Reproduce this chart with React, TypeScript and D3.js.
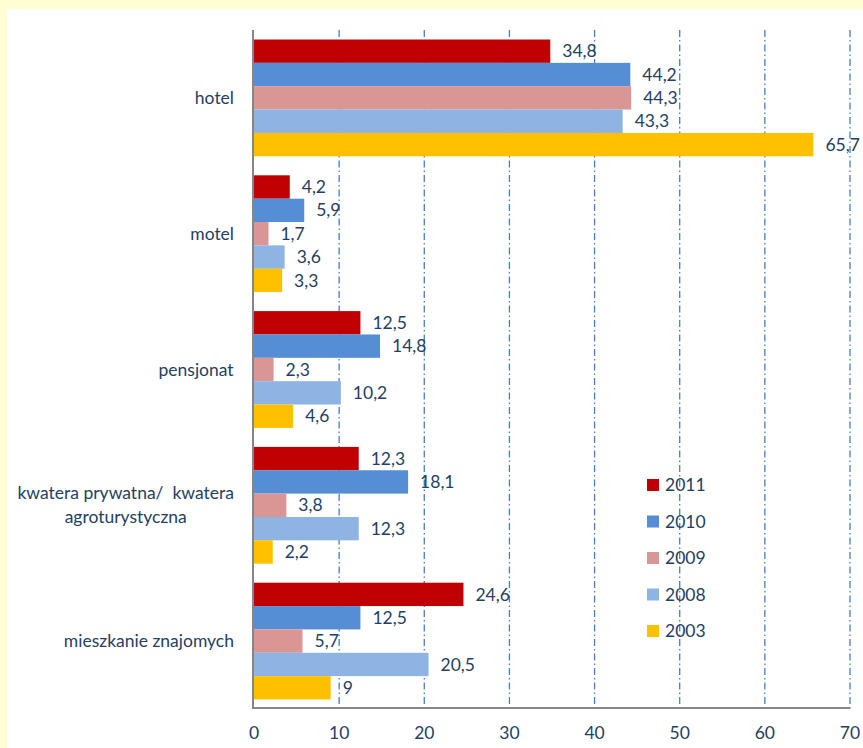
import React, { useEffect, useRef } from 'react'
import * as d3 from 'd3'

const categories = [
  ['hotel'],
  ['motel'],
  ['pensjonat'],
  ['kwatera prywatna/  kwatera', 'agroturystyczna'],
  ['mieszkanie znajomych']
]
const years = ['2011', '2010', '2009', '2008', '2003']
const colors = ['#C00000', '#558ED5', '#D99694', '#8EB4E3', '#FFC000']
const values2011 = [34.8, 4.2, 12.5, 12.3, 24.6]
const values2010 = [44.2, 5.9, 14.8, 18.1, 12.5]
const values2009 = [44.3, 1.7, 2.3, 3.8, 5.7]
const values2008 = [43.3, 3.6, 10.2, 12.3, 20.5]
const values2003 = [65.7, 3.3, 4.6, 2.2, 9]
const series = [values2011, values2010, values2009, values2008, values2003]
const xTicks = [0, 10, 20, 30, 40, 50, 60, 70]

const W = 863
const H = 748
const textColor = '#243F60'
const font = 'Lato, sans-serif'
const fs = 17.5

const App: React.FC = () => {
  const svgRef = useRef<SVGSVGElement | null>(null)

  useEffect(() => {
    if (!svgRef.current) return
    const svg = d3.select(svgRef.current)
    svg.selectAll('*').remove()

    // page background + white chart panel
    svg.append('rect').attr('width', W).attr('height', H).attr('fill', '#FFFDD2')
    svg.append('rect').attr('x', 7).attr('y', 9).attr('width', W).attr('height', H).attr('fill', '#fff')

    const x = d3.scaleLinear().domain([0, 70]).range([254, 850])
    const y = d3
      .scaleBand<number>()
      .domain(d3.range(categories.length))
      .range([30, 709])
      .paddingInner(0.14)
      .paddingOuter(0.07)
    const inner = d3
      .scaleBand<number>()
      .domain(d3.range(years.length))
      .range([0, y.bandwidth()])

    // gridlines
    svg
      .append('g')
      .selectAll('line')
      .data(xTicks.slice(1))
      .join('line')
      .attr('x1', (d) => x(d))
      .attr('x2', (d) => x(d))
      .attr('y1', 30)
      .attr('y2', 709)
      .attr('stroke', '#4A7EBB')
      .attr('stroke-width', 1.3)
      .attr('stroke-dasharray', '7,3,1.5,3')

    // bars
    const groups = svg
      .append('g')
      .selectAll('g')
      .data(categories)
      .join('g')
      .attr('transform', (_, i) => `translate(0,${y(i)})`)

    const fmt = (v: number) => String(v).replace('.', ',')

    groups.each(function (_, ci) {
      const g = d3.select(this)
      years.forEach((_, si) => {
        const v = series[si][ci]
        g.append('rect')
          .attr('x', x(0))
          .attr('y', inner(si)!)
          .attr('width', x(v) - x(0))
          .attr('height', inner.bandwidth())
          .attr('fill', colors[si])
        g.append('text')
          .attr('x', x(v) + 12)
          .attr('y', inner(si)! + inner.bandwidth() / 2)
          .attr('dy', '0.35em')
          .attr('fill', textColor)
          .attr('font-family', font)
          .attr('font-size', fs)
          .text(fmt(v))
      })
    })

    // axes lines
    svg
      .append('line')
      .attr('x1', x(0) - 1)
      .attr('x2', x(0) - 1)
      .attr('y1', 30)
      .attr('y2', 709)
      .attr('stroke', '#868686')
      .attr('stroke-width', 2)
    svg
      .append('line')
      .attr('x1', x(0) - 2)
      .attr('x2', x(70))
      .attr('y1', 708)
      .attr('y2', 708)
      .attr('stroke', '#868686')
      .attr('stroke-width', 2)

    // x tick labels
    svg
      .append('g')
      .selectAll('text')
      .data(xTicks)
      .join('text')
      .attr('x', (d) => x(d))
      .attr('y', 733)
      .attr('dy', '0.35em')
      .attr('text-anchor', 'middle')
      .attr('fill', textColor)
      .attr('font-family', font)
      .attr('font-size', fs)
      .text((d) => d)

    // category labels (multi-line centred on the longest line, right edge at 234)
    categories.forEach((lines, i) => {
      const cy = y(i)! + y.bandwidth() / 2
      const t = svg
        .append('text')
        .attr('fill', textColor)
        .attr('font-family', font)
        .attr('font-size', fs)
        .attr('text-anchor', 'middle')
      lines.forEach((line, li) => {
        t.append('tspan')
          .attr('x', 0)
          .attr('y', cy + (li - (lines.length - 1) / 2) * 24)
          .attr('dy', '0.35em')
          .style('white-space', 'pre')
          .text(line)
      })
      const w = (t.node() as SVGTextElement).getBBox().width
      t.selectAll('tspan').attr('x', 234 - w / 2)
    })

    // legend
    const legend = svg
      .append('g')
      .selectAll('g')
      .data(years)
      .join('g')
      .attr('transform', (_, i) => `translate(647,${485 + i * 36.5})`)
    legend
      .append('rect')
      .attr('y', -6)
      .attr('width', 12)
      .attr('height', 12)
      .attr('fill', (_, i) => colors[i])
    legend
      .append('text')
      .attr('x', 18)
      .attr('dy', '0.35em')
      .attr('fill', textColor)
      .attr('font-family', font)
      .attr('font-size', fs)
      .text((d) => d)
  }, [])

  return (
    <svg
      ref={svgRef}
      width={W}
      height={H}
      style={{ position: 'absolute', left: 0, top: 0, display: 'block' }}
    ></svg>
  )
}

export default App
